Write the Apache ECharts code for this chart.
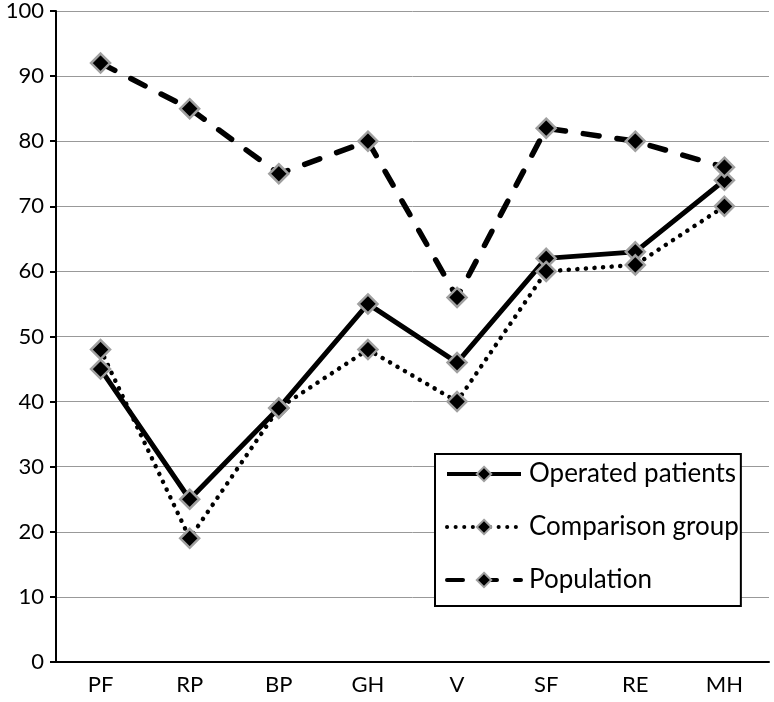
<!DOCTYPE html>
<html><head><meta charset="utf-8">
<script src="https://cdn.jsdelivr.net/npm/echarts@6/dist/echarts.min.js"></script>
<style>html,body{margin:0;padding:0;background:#fff}#c{width:774px;height:702px}</style>
</head><body><div id="c"></div>
<script>
const categories = ['PF','RP','BP','GH','V','SF','RE','MH'];
const operated = [45,25,39,55,46,62,63,74];
const comparison = [48,19,39,48,40,60,61,70];
const population = [92,85,75,80,56,82,80,76];
const yTicks = {min:0,max:100,interval:10};

const font = 'Lato, "Liberation Sans", sans-serif';
const mk = {color:'#000', borderColor:'#a0a0a0', borderWidth:2.5};
function ser(name, data, ls){
  return {name, type:'line', data, symbol:'diamond', symbolSize:19,
    lineStyle:ls, itemStyle:mk, z: 3};
}
const chart = echarts.init(document.getElementById('c'));
chart.setOption({
  animation:false,
  grid:{left:56,right:5,top:10,bottom:40},
  xAxis:{type:'category',data:categories,boundaryGap:true,
    axisLine:{lineStyle:{color:'#000',width:2}},
    axisTick:{alignWithLabel:false,length:6,lineStyle:{color:'#000',width:2}},
    axisLabel:{color:'#000',fontSize:22,fontFamily:font,margin:12}},
  yAxis:{type:'value',min:yTicks.min,max:yTicks.max,interval:yTicks.interval,
    axisLine:{show:true,lineStyle:{color:'#000',width:2}},
    axisTick:{show:true,length:6,lineStyle:{color:'#000',width:2}},
    splitLine:{lineStyle:{color:'#999',width:1}},
    axisLabel:{color:'#000',fontSize:22,fontFamily:font,margin:12}},
  legend:{orient:'vertical',left:435,top:454,
    backgroundColor:'#fff',borderColor:'#000',borderWidth:2,
    padding:[6,2,12,10],itemGap:25,itemWidth:74,itemHeight:18,
    lineStyle:{width:4},
    textStyle:{color:'#000',fontSize:26,fontFamily:font,lineHeight:28,padding:[0,0,0,3]},
    data:['Operated patients','Comparison group','Population']},
  series:[
    ser('Operated patients',operated,{color:'#000',width:5,type:'solid'}),
    ser('Comparison group',comparison,{color:'#000',width:4.5,type:[0.1,8.5],cap:'round'}),
    ser('Population',population,{color:'#000',width:5.5,type:[16,18],cap:'round'})
  ]
});
</script></body></html>
